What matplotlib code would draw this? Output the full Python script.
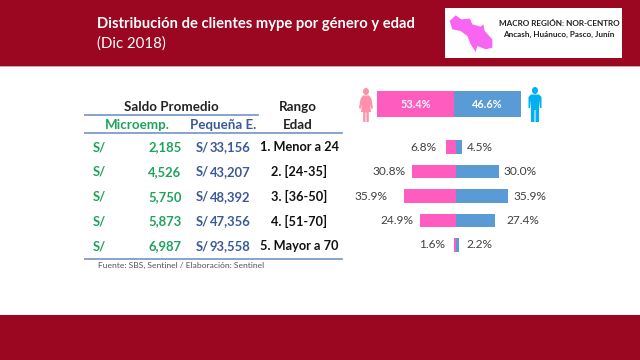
import matplotlib
matplotlib.use("Agg")
import matplotlib.pyplot as plt
from matplotlib.patches import Rectangle, Polygon, Ellipse

plt.rcParams['font.family'] = ['Lato', 'DejaVu Sans']

# ---- data ----
rangos = ["1. Menor a 24", "2. [24-35]", "3. [36-50]", "4. [51-70]", "5. Mayor a 70"]
micro = ["2,185", "4,526", "5,750", "5,873", "6,987"]
pequena = ["33,156", "43,207", "48,392", "47,356", "93,558"]
mujeres = [6.8, 30.8, 35.9, 24.9, 1.6]
hombres = [4.5, 30.0, 35.9, 27.4, 2.2]
total_mujeres = [53.4]
total_hombres = [46.6]

CRIMSON = "#9B0620"
PINK = "#FF5CC0"
BLUE = "#5B9BD5"
GREEN = "#1FA35C"
NAVY = "#3B5998"
RULE = "#7F9BCB"
TXT = "#404040"

W, H = 640, 360
fig = plt.figure(figsize=(6.4, 3.6), dpi=100, facecolor="white")

bg = fig.add_axes([0, 0, 1, 1])
bg.set_xlim(0, W); bg.set_ylim(H, 0); bg.axis("off")

bg.add_patch(Rectangle((0, 0), W, 66, color=CRIMSON, lw=0))
bg.add_patch(Rectangle((0, 66), W, 1.2, color="#D9A0A8", lw=0))
bg.add_patch(Rectangle((0, 315), W, 45, color=CRIMSON, lw=0))

bg.text(97, 24, "Distribución de clientes mype por género y edad", color="white",
        fontsize=10.6, fontweight="bold", va="center", ha="left")
bg.text(97, 44, "(Dic 2018)", color="white", fontsize=10.8, va="center", ha="left")

# logo box
bg.add_patch(Rectangle((445, 8), 177, 50, color="white", lw=0))
map_pts = [(17, 45), (35, 28), (52, 40), (78, 38), (85, 55), (110, 62), (118, 55), (122, 75),
           (145, 100), (145, 125), (125, 130), (100, 120), (95, 138), (80, 115), (70, 90),
           (50, 75), (25, 70)]
bg.add_patch(Polygon([(444 + x / 3, 6 + y / 3) for x, y in map_pts], closed=True,
                     color="#F765F2", lw=0))
bg.text(559, 23.5, "MACRO REGIÓN: NOR-CENTRO", color="#222222", fontsize=5.9,
        fontweight="bold", ha="center", va="center")
bg.text(559, 34.5, "Ancash, Huánuco, Pasco, Junín", color="#222222", fontsize=5.9,
        fontweight="bold", ha="center", va="center")

# table rules
bg.plot([85, 258], [114.5, 114.5], color=RULE, lw=1.3)
bg.plot([85, 342], [132.5, 132.5], color=RULE, lw=1.3)
bg.plot([85, 342], [258.5, 258.5], color=RULE, lw=1.3)

# table headers
bg.text(171, 106.7, "Saldo Promedio", color="#222222", fontsize=9.6, fontweight="bold",
        ha="center", va="center")
bg.text(298, 106.7, "Rango", color="#222222", fontsize=9.6, fontweight="bold",
        ha="center", va="center")
bg.text(137, 125, "Microemp.", color=GREEN, fontsize=9.6, fontweight="bold",
        ha="center", va="center")
bg.text(223, 125, "Pequeña E.", color=NAVY, fontsize=9.6, fontweight="bold",
        ha="center", va="center")
bg.text(298, 125, "Edad", color="#222222", fontsize=9.6, fontweight="bold",
        ha="center", va="center")

# table rows
row_y = [147, 171.7, 196.7, 221, 246.5]
for y, m, p, r in zip(row_y, micro, pequena, rangos):
    bg.text(93, y, "S/", color=GREEN, fontsize=9.4, fontweight="bold", ha="left", va="center")
    bg.text(181.5, y, m, color=GREEN, fontsize=9.4, fontweight="bold", ha="right", va="center")
    bg.text(196, y, "S/", color=NAVY, fontsize=9.4, fontweight="bold", ha="left", va="center")
    bg.text(250.5, y, p, color=NAVY, fontsize=9.4, fontweight="bold", ha="right", va="center")
    bg.text(299, y, r, color="#111111", fontsize=9.2, fontweight="bold", ha="center", va="center")

bg.text(98.5, 265, "Fuente: SBS, Sentinel / Elaboración: Sentinel", color="#555555",
        fontsize=6.1, ha="left", va="center")

# person icons
def person(cx, top, color, h=34, female=True):
    s = h / 34
    bg.add_patch(Ellipse((cx, top + 3.5 * s), 6 * s, 7 * s, color=color, lw=0))
    if female:
        pts = [(-3, 7.5), (3, 7.5), (5.5, 11), (7, 20), (5.5, 21), (4, 16), (5, 24), (2.8, 24),
               (2.8, 34), (0.5, 34), (0.5, 24.5), (-0.5, 24.5), (-0.5, 34), (-2.8, 34),
               (-2.8, 24), (-5, 24), (-4, 16), (-5.5, 21), (-7, 20), (-5.5, 11)]
    else:
        pts = [(-4, 7.5), (4, 7.5), (6.5, 10), (6.5, 21), (5, 21), (4.2, 13), (4, 35), (0.5, 35),
               (0.5, 23), (-0.5, 23), (-0.5, 35), (-4, 35), (-4.2, 13), (-5, 21), (-6.5, 21), (-6.5, 10)]
    bg.add_patch(Polygon([(cx + x * s, top + y * s) for x, y in pts], closed=True, color=color, lw=0))

person(366, 88, "#FF8FAB", female=True)
person(535, 87, "#00B0F0", female=False)

def px_axes(x0, x1, y0, y1):
    ax = fig.add_axes([x0 / W, 1 - y1 / H, (x1 - x0) / W, (y1 - y0) / H])
    ax.axis("off")
    ax.patch.set_alpha(0)
    return ax

# total stacked bar
top = px_axes(377, 521, 91, 117.5)
top.barh([0], total_mujeres, height=1, color=PINK, lw=0)
top.barh([0], total_hombres, left=total_mujeres, height=1, color=BLUE, lw=0)
top.set_xlim(0, 100); top.set_ylim(-0.5, 0.5)
top.text(total_mujeres[0] / 2, 0, f"{total_mujeres[0]:.1f}%", color="white", fontsize=7.8,
         fontweight="bold", ha="center", va="center")
top.text(total_mujeres[0] + total_hombres[0] / 2, 0, f"{total_hombres[0]:.1f}%", color="white",
         fontsize=7.8, fontweight="bold", ha="center", va="center")

# diverging bars (1.44 px per percentage point, zero at x=456)
scale = 1.44
x0_px, x1_px = 340, 572
ax = px_axes(x0_px, x1_px, 134.8, 257.2)
ypos = list(range(len(rangos)))
ax.barh(ypos, [-v for v in mujeres], height=0.54, color=PINK, lw=0)
ax.barh(ypos, hombres, height=0.54, color=BLUE, lw=0)
ax.set_xlim((x0_px - 456) / scale, (x1_px - 456) / scale)
ax.set_ylim(len(rangos) - 0.5, -0.5)
gap_l = [9.5, 6, 17, 7, 8.3]    # px between bar end and label
gap_r = [4.7, 4.3, 5.5, 11, 7.4]
for i, (m, h) in enumerate(zip(mujeres, hombres)):
    ax.annotate(f"{m:.1f}%", (-m, i), xytext=(-gap_l[i] * 0.72, 0), textcoords="offset points",
                color=TXT, fontsize=8.6, ha="right", va="center", annotation_clip=False)
    ax.annotate(f"{h:.1f}%", (h, i), xytext=(gap_r[i] * 0.72, 0), textcoords="offset points",
                color=TXT, fontsize=8.6, ha="left", va="center", annotation_clip=False)

fig.savefig("out.png", dpi=100, facecolor="white")
